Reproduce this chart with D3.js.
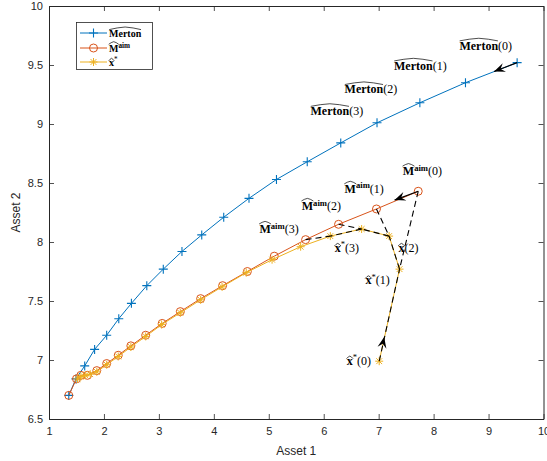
<!DOCTYPE html>
<html><head><meta charset="utf-8">
<script src="https://cdn.jsdelivr.net/npm/d3@7"></script>
<style>body{margin:0;background:#fff}svg{display:block}</style>
</head><body>
<svg id="chart" width="547" height="461"></svg>
<script>
// ---- data ----
const mertonX = [1.36,1.49,1.65,1.83,2.05,2.27,2.50,2.78,3.08,3.42,3.78,4.18,4.64,5.14,5.70,6.31,6.97,7.75,8.58,9.52];
const mertonY = [6.70,6.84,6.95,7.09,7.21,7.35,7.48,7.63,7.77,7.92,8.06,8.21,8.37,8.53,8.68,8.84,9.01,9.18,9.35,9.52];
const maimX = [1.36,1.50,1.58,1.70,1.87,2.05,2.26,2.49,2.76,3.06,3.39,3.76,4.16,4.61,5.10,5.67,6.27,6.96,7.72];
const maimY = [6.70,6.84,6.87,6.87,6.91,6.97,7.04,7.12,7.21,7.31,7.41,7.52,7.63,7.75,7.88,8.02,8.15,8.28,8.43];
const xstarX = [7.01,7.38,7.19,6.69,6.12,5.58,5.06,4.59,4.15,3.76,3.39,3.05,2.76,2.49,2.26,2.05,1.87,1.75,1.66,1.58,1.52];
const xstarY = [6.99,7.77,8.05,8.11,8.05,7.96,7.85,7.74,7.62,7.51,7.40,7.30,7.20,7.11,7.03,6.96,6.90,6.88,6.87,6.86,6.84];
const xTicks = [1,2,3,4,5,6,7,8,9,10];
const yTicks = [6.5,7,7.5,8,8.5,9,9.5,10];
const seriesNames = ["Merton","M","x"];
const colors = ["#0072BD","#D95319","#EDB120"];
// dashed segments (data coords): M(k) -> x(k+1) and along x path
const dashFrom = [[7.01,6.99],[7.38,7.77],[7.19,8.05],[6.69,8.11],[7.72,8.43],[6.96,8.28],[6.27,8.15],[5.67,8.02]];
const dashTo   = [[7.38,7.77],[7.19,8.05],[6.69,8.11],[6.12,8.05],[7.38,7.77],[7.19,8.05],[6.69,8.11],[6.12,8.05]];
// arrows: start point and arrow-head tip (data coords)
const arrowFrom = [[9.52,9.52],[7.72,8.43],[7.01,6.99]];
const arrowTip  = [[9.10,9.445],[7.29,8.355],[7.10,7.195]];
const arrowSolid = [true,true,false];
// labels: type, index, left x and baseline y (data coords)
const labType = ["Merton","Merton","Merton","Merton","M","M","M","M","xs","xs","x","xs"];
const labIdx  = [0,1,2,3,0,1,2,3,0,1,2,3];
const labX    = [8.47,7.28,6.38,5.76,7.44,6.38,5.60,4.83,6.42,6.76,7.36,6.20];
const labY    = [9.63,9.46,9.26,9.075,8.565,8.415,8.27,8.075,6.96,7.64,7.915,7.915];

// ---- layout ----
const svg = d3.select("#chart");
const L=49, R=543.5, T=6, B=419;
const x = d3.scaleLinear().domain([1,10]).range([L,R]);
const y = d3.scaleLinear().domain([6.5,10]).range([B,T]);
const axisCol = "#262626";

// axes box
const tickFont = "11px 'Liberation Sans', Arial, sans-serif";
const gx = svg.append("g").attr("transform",`translate(0,${B})`)
  .call(d3.axisBottom(x).tickValues(xTicks).tickFormat(d3.format("")).tickSizeInner(-5).tickSizeOuter(0).tickPadding(8));
const gy = svg.append("g").attr("transform",`translate(${L},0)`)
  .call(d3.axisLeft(y).tickValues(yTicks).tickFormat(d=>String(d)).tickSizeInner(-5).tickSizeOuter(0).tickPadding(6));
const gxt = svg.append("g").attr("transform",`translate(0,${T})`)
  .call(d3.axisTop(x).tickValues(xTicks).tickFormat("").tickSizeInner(-5).tickSizeOuter(0));
const gyr = svg.append("g").attr("transform",`translate(${R},0)`)
  .call(d3.axisRight(y).tickValues(yTicks).tickFormat("").tickSizeInner(-5).tickSizeOuter(0));
[gx,gy,gxt,gyr].forEach(g=>{
  g.selectAll("path.domain").attr("stroke",axisCol).attr("stroke-width",1);
  g.selectAll(".tick line").attr("stroke",axisCol).attr("stroke-width",0.8);
  g.selectAll("text").style("font",tickFont).attr("fill",axisCol);
});
svg.append("text").attr("x",(L+R)/2).attr("y",455).attr("text-anchor","middle")
  .style("font","12px 'Liberation Sans', Arial, sans-serif").attr("fill",axisCol).text("Asset 1");
svg.append("text").attr("transform",`translate(20,${(T+B)/2}) rotate(-90)`).attr("text-anchor","middle")
  .style("font","12px 'Liberation Sans', Arial, sans-serif").attr("fill",axisCol).text("Asset 2");

// markers
function drawMarker(g, type, cx, cy, col){
  if(type===0){
    g.append("path").attr("d",`M${cx-4.5},${cy}H${cx+4.5}M${cx},${cy-4.5}V${cy+4.5}`).attr("stroke",col).attr("stroke-width",1.1);
  } else if(type===1){
    g.append("circle").attr("cx",cx).attr("cy",cy).attr("r",4).attr("fill","none").attr("stroke",col).attr("stroke-width",1);
  } else {
    const s=4, d=2.9;
    g.append("path").attr("d",`M${cx-s},${cy}H${cx+s}M${cx},${cy-s}V${cy+s}M${cx-d},${cy-d}L${cx+d},${cy+d}M${cx-d},${cy+d}L${cx+d},${cy-d}`)
      .attr("stroke",col).attr("stroke-width",1);
  }
}
const plot = svg.append("g");
const line = d3.line().x(d=>x(d[0])).y(d=>y(d[1]));
const series = [
  d3.zip(mertonX, mertonY),
  d3.zip(maimX, maimY),
  d3.zip(xstarX, xstarY)
];
series.forEach((pts,i)=>{
  plot.append("path").attr("d",line(pts)).attr("fill","none").attr("stroke",colors[i]).attr("stroke-width",1);
  pts.forEach(p=>drawMarker(plot,i,x(p[0]),y(p[1]),colors[i]));
});

// dashed lines
dashFrom.forEach((a,i)=>{
  const b = dashTo[i];
  svg.append("line").attr("x1",x(a[0])).attr("y1",y(a[1])).attr("x2",x(b[0])).attr("y2",y(b[1]))
    .attr("stroke","#000").attr("stroke-width",1.1).attr("stroke-dasharray","6,4");
});
// arrows
arrowFrom.forEach((a,i)=>{
  const x0=x(a[0]), y0=y(a[1]), x1=x(arrowTip[i][0]), y1=y(arrowTip[i][1]);
  if(arrowSolid[i]) svg.append("line").attr("x1",x0).attr("y1",y0).attr("x2",x1).attr("y2",y1).attr("stroke","#000").attr("stroke-width",1.2);
  const ang = Math.atan2(y1-y0,x1-x0);
  const len=11, wid=4.5, back=7;
  const ux=Math.cos(ang), uy=Math.sin(ang), px=-uy, py=ux;
  const bx=x1-ux*len, by=y1-uy*len;
  const nx=x1-ux*back, ny=y1-uy*back;
  svg.append("path").attr("d",`M${x1},${y1}L${bx+px*wid},${by+py*wid}L${nx},${ny}L${bx-px*wid},${by-py*wid}Z`).attr("fill","#000");
});

// labels with hats
const serif = "'Liberation Serif','DejaVu Serif',serif";
function hat(g, x0, w, ytop){
  g.append("path").attr("d",`M${x0},${ytop+2.6}Q${x0+w*0.25},${ytop+0.6} ${x0+w/2},${ytop}Q${x0+w*0.75},${ytop+0.6} ${x0+w},${ytop+2.6}`)
    .attr("fill","none").attr("stroke","#000").attr("stroke-width",0.7);
}
function makeLabel(g, type, idx, px, py, fs){
  const t = g.append("text").attr("x",px).attr("y",py).style("font-family",serif).style("font-size",fs+"px").attr("fill","#000");
  let base, sup=null, hatTop;
  if(type==="Merton"){ base="Merton"; hatTop=py-fs*0.95; }
  else if(type==="M"){ base="M"; sup="aim"; hatTop=py-fs*0.98; }
  else if(type==="xs"){ base="x"; sup="*"; hatTop=py-fs*0.72; }
  else { base="x"; hatTop=py-fs*0.72; }
  t.append("tspan").style("font-weight","bold").text(base);
  if(sup){
    t.append("tspan").style("font-weight", type==="M"?"bold":"normal").style("font-size",(fs*0.72)+"px").attr("dy",-fs*0.38).text(sup);
  }
  if(idx!==null){
    t.append("tspan").attr("dy", sup? fs*0.38:0).text("("+idx+")");
  }
  const w = t.node().getSubStringLength(0, base.length);
  const padx = type==="Merton"?0.5:0;
  hat(g, px+padx-0.3, w-padx*2+0.6, hatTop);
}
const labG = svg.append("g");
labType.forEach((tp,i)=>makeLabel(labG, tp, labIdx[i], x(labX[i]), y(labY[i]), 12));

// legend
const lg = svg.append("g");
lg.append("rect").attr("x",76.5).attr("y",22.5).attr("width",76).attr("height",47).attr("fill","#fff").attr("stroke",axisCol).attr("stroke-width",0.8);
const legY=[33,48,62];
seriesNames.forEach((n,i)=>{
  lg.append("line").attr("x1",80).attr("x2",107).attr("y1",legY[i]).attr("y2",legY[i]).attr("stroke",colors[i]).attr("stroke-width",1);
  drawMarker(lg,i,93.5,legY[i],colors[i]);
  const tp = n==="Merton"?"Merton":(n==="M"?"M":"xs");
  makeLabel(lg, tp, null, 109, legY[i]+3.5, 10);
});
</script>
</body></html>
